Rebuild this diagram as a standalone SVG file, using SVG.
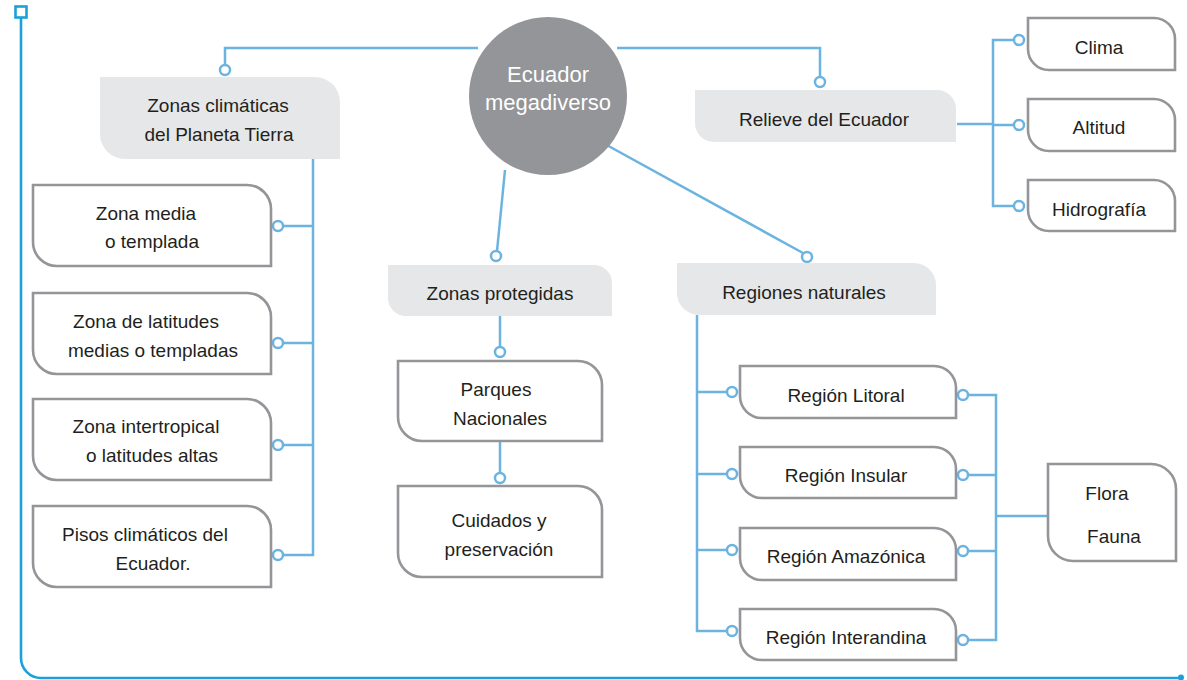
<svg xmlns="http://www.w3.org/2000/svg" width="1187" height="680" viewBox="0 0 1187 680">
<style>
.frame{fill:none;stroke:#1ba0da;stroke-width:2.6}
.conn{fill:none;stroke:#6cb4e0;stroke-width:2.5}
.dot{fill:#fff;stroke:#6cb4e0;stroke-width:2.5}
.box{fill:#fff;stroke:#939598;stroke-width:2.6}
.gbox{fill:#e6e7e8;stroke:none}
text{font-family:"Liberation Sans",Arial,sans-serif;font-size:19px;fill:#231f20;text-anchor:middle}
.hub{fill:#939598}
.hubt{fill:#fff;font-size:22px}
</style>
<rect width="1187" height="680" fill="#fff"/>
<g id="frame">
<rect class="frame" x="15.5" y="6.5" width="11" height="11" fill="#fff"/>
<path class="frame" d="M21 17.5 V658 A20 20 0 0 0 41 678 H1181"/>
<circle cx="1181" cy="677.5" r="3" fill="#1ba0da"/>
</g>
<g id="connectors">
<path class="conn" d="M225 65 V48 H478"/>
<path class="conn" d="M617 48 H820 V77"/>
<path class="conn" d="M505 170 L497 251"/>
<path class="conn" d="M603 143 L803 253"/>
<path class="conn" d="M313 159 V555 H284"/>
<path class="conn" d="M313 226 H284 M313 343 H284 M313 445 H284"/>
<path class="conn" d="M500 316 V347 M500 442 V473"/>
<path class="conn" d="M957 124 H993 M1014 40 H993 V206 H1014 M993 125 H1014"/>
<path class="conn" d="M697 315 V631 H727 M697 392 H727 M697 474 H727 M697 550 H727"/>
<path class="conn" d="M968 395 H996 V640 H968 M968 475 H996 M968 551 H996 M996 516 H1048"/>
<circle class="dot" cx="225" cy="70" r="5"/>
<circle class="dot" cx="820" cy="82" r="5"/>
<circle class="dot" cx="496" cy="256" r="5"/>
<circle class="dot" cx="807" cy="257" r="5"/>
<circle class="dot" cx="278" cy="226" r="5"/>
<circle class="dot" cx="278" cy="343" r="5"/>
<circle class="dot" cx="278" cy="445" r="5"/>
<circle class="dot" cx="278" cy="555" r="5"/>
<circle class="dot" cx="500" cy="352" r="5"/>
<circle class="dot" cx="500" cy="478" r="5"/>
<circle class="dot" cx="1019" cy="40" r="5"/>
<circle class="dot" cx="1019" cy="125" r="5"/>
<circle class="dot" cx="1019" cy="206" r="5"/>
<circle class="dot" cx="732" cy="392" r="5"/>
<circle class="dot" cx="732" cy="474" r="5"/>
<circle class="dot" cx="732" cy="550" r="5"/>
<circle class="dot" cx="732" cy="631" r="5"/>
<circle class="dot" cx="963" cy="395" r="5"/>
<circle class="dot" cx="963" cy="475" r="5"/>
<circle class="dot" cx="963" cy="551" r="5"/>
<circle class="dot" cx="963" cy="640" r="5"/>
</g>
<g id="hub">
<circle class="hub" cx="548" cy="96" r="79"/>
<text class="hubt" x="548" y="82">Ecuador</text>
<text class="hubt" x="548" y="110">megadiverso</text>
</g>
<g id="zonas-climaticas">
<path class="gbox" d="M100 77 H315 A25 25 0 0 1 340 102 V159 H125 A25 25 0 0 1 100 134 Z"/>
<text x="218" y="112">Zonas climáticas</text>
<text x="219" y="141">del Planeta Tierra</text>
</g>
<g id="zona-media">
<path class="box" d="M33 185 H247 A24 24 0 0 1 271 209 V266 H57 A24 24 0 0 1 33 242 Z"/>
<text x="146" y="220">Zona media</text>
<text x="152" y="248">o templada</text>
</g>
<g id="zona-latitudes">
<path class="box" d="M33 293 H247 A24 24 0 0 1 271 317 V374 H57 A24 24 0 0 1 33 350 Z"/>
<text x="146" y="328">Zona de latitudes</text>
<text x="153" y="357">medias o templadas</text>
</g>
<g id="zona-intertropical">
<path class="box" d="M33 399 H247 A24 24 0 0 1 271 423 V480 H57 A24 24 0 0 1 33 456 Z"/>
<text x="146" y="433">Zona intertropical</text>
<text x="152" y="462">o latitudes altas</text>
</g>
<g id="pisos">
<path class="box" d="M33 506 H247 A24 24 0 0 1 271 530 V587 H57 A24 24 0 0 1 33 563 Z"/>
<text x="145" y="541">Pisos climáticos del</text>
<text x="153" y="570">Ecuador.</text>
</g>
<g id="zonas-protegidas">
<path class="gbox" d="M388 265 H594 A18 18 0 0 1 612 283 V316 H406 A18 18 0 0 1 388 298 Z"/>
<text x="500" y="300">Zonas protegidas</text>
</g>
<g id="parques">
<path class="box" d="M398 361 H578 A24 24 0 0 1 602 385 V441 H422 A24 24 0 0 1 398 417 Z"/>
<text x="496" y="396">Parques</text>
<text x="500" y="425">Nacionales</text>
</g>
<g id="cuidados">
<path class="box" d="M398 486 H578 A24 24 0 0 1 602 510 V577 H422 A24 24 0 0 1 398 553 Z"/>
<text x="499" y="527">Cuidados y</text>
<text x="499" y="556">preservación</text>
</g>
<g id="relieve">
<path class="gbox" d="M695 90 H937 A19 19 0 0 1 956 109 V142 H714 A19 19 0 0 1 695 123 Z"/>
<text x="824" y="126">Relieve del Ecuador</text>
</g>
<g id="clima">
<path class="box" d="M1028 18 H1154 A21 21 0 0 1 1175 39 V70 H1049 A21 21 0 0 1 1028 49 Z"/>
<text x="1099" y="54">Clima</text>
</g>
<g id="altitud">
<path class="box" d="M1028 99 H1154 A21 21 0 0 1 1175 120 V151 H1049 A21 21 0 0 1 1028 130 Z"/>
<text x="1099" y="134">Altitud</text>
</g>
<g id="hidrografia">
<path class="box" d="M1028 180 H1154 A21 21 0 0 1 1175 201 V231 H1049 A21 21 0 0 1 1028 210 Z"/>
<text x="1099" y="216">Hidrografía</text>
</g>
<g id="regiones">
<path class="gbox" d="M677 263 H914 A22 22 0 0 1 936 285 V315 H699 A22 22 0 0 1 677 293 Z"/>
<text x="804" y="299">Regiones naturales</text>
</g>
<g id="litoral">
<path class="box" d="M740 366 H934 A22 22 0 0 1 956 388 V418 H762 A22 22 0 0 1 740 396 Z"/>
<text x="846" y="402">Región Litoral</text>
</g>
<g id="insular">
<path class="box" d="M740 447 H934 A22 22 0 0 1 956 469 V498 H762 A22 22 0 0 1 740 476 Z"/>
<text x="846" y="482">Región Insular</text>
</g>
<g id="amazonica">
<path class="box" d="M740 528 H934 A22 22 0 0 1 956 550 V580 H762 A22 22 0 0 1 740 558 Z"/>
<text x="846" y="563">Región Amazónica</text>
</g>
<g id="interandina">
<path class="box" d="M740 609 H934 A22 22 0 0 1 956 631 V660 H762 A22 22 0 0 1 740 638 Z"/>
<text x="846" y="644">Región Interandina</text>
</g>
<g id="flora-fauna">
<path class="box" d="M1048 464 H1151 A25 25 0 0 1 1176 489 V561 H1073 A25 25 0 0 1 1048 536 Z"/>
<text x="1107" y="500">Flora</text>
<text x="1114" y="543">Fauna</text>
</g>
</svg>
